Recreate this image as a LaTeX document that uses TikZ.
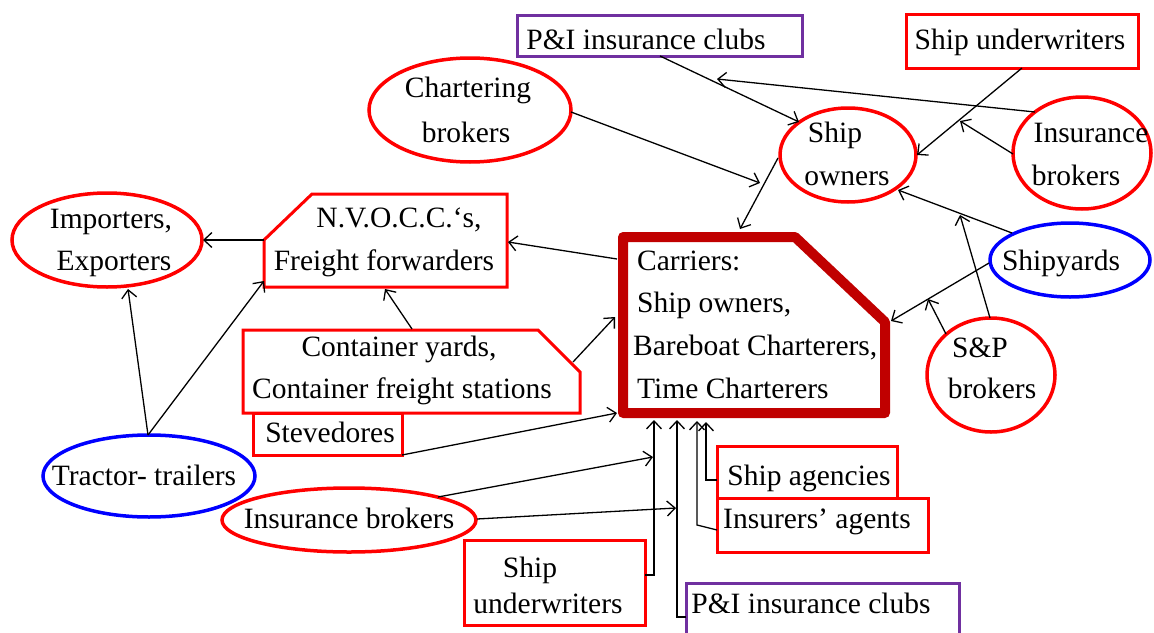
\documentclass[tikz,border=0pt]{standalone}
\usepackage{fontspec}
\setmainfont{Liberation Serif}
\usetikzlibrary{shapes.geometric,arrows.meta}
\definecolor{cred}{RGB}{255,0,0}
\definecolor{cblue}{RGB}{0,0,255}
\definecolor{cpurp}{RGB}{112,48,160}
\definecolor{cdark}{RGB}{192,0,0}
\begin{document}
\begin{tikzpicture}[x=1pt,y=-1pt,
  txt/.style={font=\fontsize{29.5}{43}\selectfont, inner sep=0pt, anchor=base},
  ell/.style={ellipse, draw=cred, line width=3.5pt, inner sep=0pt},
  bx/.style={draw=cred, line width=3pt},
  conn/.style={draw=black, line width=1.3pt, -{Straight Barb[length=8pt,width=15pt]}},
  plain/.style={draw=black, line width=1.3pt}
]
\useasboundingbox (0,0) rectangle (1154,632);
\clip (0,0) rectangle (1154,632);

% ---- ellipses ----
\node[ell, minimum width=190pt, minimum height=94pt] (imp) at (107,240) {};
\node[ell, draw=cblue, minimum width=212pt, minimum height=82pt] (trac) at (149,476) {};
\node[ell, minimum width=202pt, minimum height=104pt] (chart) at (470,110) {};
\node[ell, minimum width=136pt, minimum height=94pt] (sown) at (848,155) {};
\node[ell, minimum width=138pt, minimum height=112pt] (ibt) at (1082,153) {};
\node[ell, draw=cblue, minimum width=160pt, minimum height=74pt] (yard) at (1070,260) {};
\node[ell, minimum width=128pt, minimum height=114pt] (sp) at (991,375) {};
\node[ell, minimum width=254pt, minimum height=64pt] (ibb) at (349,520) {};

% ---- boxes ----
\draw[bx, draw=cpurp] (517,15) rectangle (802,56);
\coordinate (pit) at (660,56);
\draw[bx] (906,14) rectangle (1138,68);
\draw[bx] (253,413) rectangle (402,455);
\draw[bx] (717,446) rectangle (897,498);
\draw[bx] (717,498) rectangle (928,552);
\draw[bx] (464,540) rectangle (645,625);
\draw[bx, draw=cpurp] (686,583) rectangle (959,660);

% NVOCC
\draw[bx, line join=miter] (312,194) -- (507,194) -- (507,287) -- (264,287) -- (264,240) -- cycle;
% Container yards
\draw[bx, line join=miter] (243,330) -- (538,330) -- (580,372) -- (580,413) -- (243,413) -- cycle;
% Carriers
\draw[draw=cdark, line width=10pt, line join=round] (623,237) -- (795,237) -- (885,322) -- (885,413) -- (623,413) -- cycle;

% ---- texts ----
\node[txt] (timp1) at (111,228) {Importers,};
\node[txt] (timp2) at (114,270) {Exporters};
\node[txt] (tnv1) at (399,227) {N.V.O.C.C.‘s,};
\node[txt] (tnv2) at (384,270) {Freight forwarders};
\node[txt] (tcy1) at (399,356) {Container yards,};
\node[txt] (tcy2) at (402,398) {Container freight stations};
\node[txt] (tst) at (330,442) {Stevedores};
\node[txt] (ttr) at (144,485) {Tractor- trailers};
\node[txt] (tibb) at (349,528) {Insurance brokers};
\node[txt] (tsu1) at (530,577) {Ship};
\node[txt] (tsu2) at (548,613) {underwriters};
\node[txt] (tsa) at (809,485) {Ship agencies};
\node[txt] (tia) at (817,528) {Insurers’ agents};
\node[txt] (tpib) at (811,613) {P\&I insurance clubs};
\node[txt] (tpit) at (646,49) {P\&I insurance clubs};
\node[txt] (tsut) at (1020,49) {Ship underwriters};
\node[txt] (tch1) at (468,97) {Chartering};
\node[txt] (tch2) at (466,142) {brokers};
\node[txt] (tso1) at (835,142) {Ship};
\node[txt] (tso2) at (847,185) {owners};
\node[txt] (tib1) at (1091,142) {Insurance};
\node[txt] (tib2) at (1076,185) {brokers};
\node[txt] (tsy) at (1061,270) {Shipyards};
\node[txt] (tsp1) at (980,357) {S\&P};
\node[txt] (tsp2) at (992,398) {brokers};
\node[txt, anchor=base west] (tc1) at (637,270) {Carriers:};
\node[txt, anchor=base west] (tc2) at (637,312) {Ship owners,};
\node[txt, anchor=base west] (tc3) at (633,355) {Bareboat Charterers,};
\node[txt, anchor=base west] (tc4) at (637,398) {Time Charterers};

% ---- connector end points ----
\coordinate (nvL) at (264,240);
\coordinate (impR) at (203,240);
\coordinate (trT) at (148,435);
\coordinate (impB) at (128,289);
\coordinate (nvBL) at (264,281);
\coordinate (cyT) at (412,329);
\coordinate (nvB) at (385,289);
\coordinate (caL1) at (617,259);
\coordinate (nvR) at (508,242);
\coordinate (cyC) at (573,362);
\coordinate (caL2) at (615,317);
\coordinate (stR) at (402,455);
\coordinate (caBL) at (617,413);
\coordinate (ibbT) at (438,497);
\coordinate (v1) at (653,457);
\coordinate (ibbR) at (477,519);
\coordinate (v2) at (676,508);
\coordinate (subR) at (645,575);
\coordinate (subK) at (654,575);
\coordinate (ca1) at (654,420);
\coordinate (pibL) at (686,617);
\coordinate (pibK) at (677,617);
\coordinate (ca2) at (677,420);
\coordinate (iaL) at (717,530);
\coordinate (iaK) at (697,525);
\coordinate (ca3) at (697,421);
\coordinate (saL) at (717,480);
\coordinate (saK) at (706,480);
\coordinate (ca4) at (706,422);
\coordinate (soL) at (778,158);
\coordinate (caT) at (740,229);
\coordinate (chR) at (571,112);
\coordinate (chE) at (760,183);
\coordinate (soTL) at (799,122);
\coordinate (ibtL1) at (1035,112);
\coordinate (pm) at (717,79);
\coordinate (sutB) at (1022,68);
\coordinate (soR) at (917,155);
\coordinate (ibtL2) at (1013,154);
\coordinate (um) at (960,121);
\coordinate (syT) at (1012,233);
\coordinate (soBR) at (898,190);
\coordinate (spT) at (990,318);
\coordinate (sm) at (960,215);
\coordinate (syL) at (989,263);
\coordinate (caC) at (891,321);
\coordinate (spTL) at (946,334);
\coordinate (sm2) at (928,299);

% ---- connectors ----
\draw[conn] (nvL) -- (impR);
\draw[conn] (trT) -- (impB);
\draw[conn] (trT) -- (nvBL);
\draw[conn] (cyT) -- (nvB);
\draw[conn] (caL1) -- (nvR);
\draw[conn] (cyC) -- (caL2);
\draw[conn] (stR) -- (caBL);
\draw[conn] (ibbT) -- (v1);
\draw[conn] (ibbR) -- (v2);
\draw[conn] (subR) -- (subK) -- (ca1);
\draw[conn] (pibL) -- (pibK) -- (ca2);
\draw[conn] (iaL) -- (iaK) -- (ca3);
\draw[conn] (saL) -- (saK) -- (ca4);
\draw[conn] (soL) -- (caT);
\draw[conn] (chR) -- (chE);
\draw[conn] (pit) -- (soTL);
\draw[conn] (ibtL1) -- (pm);
\draw[conn] (sutB) -- (soR);
\draw[conn] (ibtL2) -- (um);
\draw[conn] (syT) -- (soBR);
\draw[conn] (spT) -- (sm);
\draw[conn] (syL) -- (caC);
\draw[conn] (spTL) -- (sm2);
\end{tikzpicture}
\end{document}
